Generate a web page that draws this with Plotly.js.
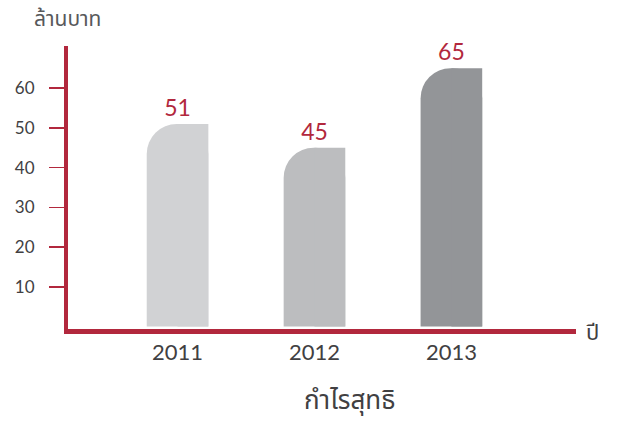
<!DOCTYPE html>
<html>
<head>
<meta charset="utf-8">
<script src="https://cdn.plot.ly/plotly-3.0.1.min.js"></script>
<style>html,body{margin:0;padding:0;background:#fff}#chart{width:619px;height:426px}</style>
</head>
<body>
<div id="chart"></div>
<script>
// ---- data ----
const years = ['2011', '2012', '2013'];
const netProfit = [51, 45, 65];
const yTickVals = [10, 20, 30, 40, 50, 60];
const yUnitLabel = 'ล้านบาท';
const xUnitLabel = 'ปี';
const chartTitle = 'กำไรสุทธิ';

// ---- style ----
const barColors = ['#d1d2d4', '#bcbdbf', '#939598'];
const red = '#b2283d';
const textGray = '#414042';
const fontFam = 'Lato, "Noto Sans", "Noto Sans Thai", sans-serif';
const barW = 0.45;

const traces = [
  { // full bar with rounded top corners
    type: 'bar', x: years, y: netProfit,
    width: barW, offset: -barW / 2,
    marker: { color: barColors, cornerradius: 32, line: { width: 0 } },
    text: netProfit.map(String), textposition: 'outside', cliponaxis: false,
    textfont: { family: fontFam, size: 23, color: red },
    hoverinfo: 'x+y'
  },
  { // right half, square corner
    type: 'bar', x: years, y: netProfit,
    width: barW / 2, offset: 0,
    marker: { color: barColors, line: { width: 0 } },
    hoverinfo: 'skip'
  }
];

const layout = {
  width: 619, height: 426,
  margin: { l: 68, r: 43, t: 46, b: 97 },
  paper_bgcolor: '#fff', plot_bgcolor: '#fff',
  barmode: 'overlay', showlegend: false,
  font: { family: fontFam, color: textGray },
  xaxis: {
    type: 'category', range: [-0.8, 2.91],
    showline: true, linecolor: red, linewidth: 5,
    ticks: '', showgrid: false, zeroline: false,
    tickfont: { size: 22, color: textGray },
    ticklabelstandoff: 0
  },
  yaxis: {
    range: [-0.6, 70.6],
    showline: true, linecolor: red, linewidth: 4,
    tickvals: yTickVals, ticks: 'outside', ticklen: 15, tickwidth: 1.5, tickcolor: red,
    showgrid: false, zeroline: false,
    tickfont: { size: 17, color: textGray },
    ticklabelstandoff: 11
  },
  annotations: [
    { text: yUnitLabel, xref: 'paper', yref: 'paper', x: -0.07, y: 1.05,
      xanchor: 'left', yanchor: 'bottom', showarrow: false,
      font: { size: 21, color: '#58595b' } },
    { text: xUnitLabel, xref: 'paper', yref: 'paper', x: 1.015, y: -0.01,
      xanchor: 'left', yanchor: 'middle', showarrow: false,
      font: { size: 22, color: textGray } },
    { text: chartTitle, xref: 'paper', yref: 'paper', x: 0.555, y: -0.25,
      xanchor: 'center', yanchor: 'middle', showarrow: false,
      font: { size: 26, color: textGray } }
  ]
};

Plotly.newPlot('chart', traces, layout, { displayModeBar: false, staticPlot: true });
</script>
</body>
</html>
